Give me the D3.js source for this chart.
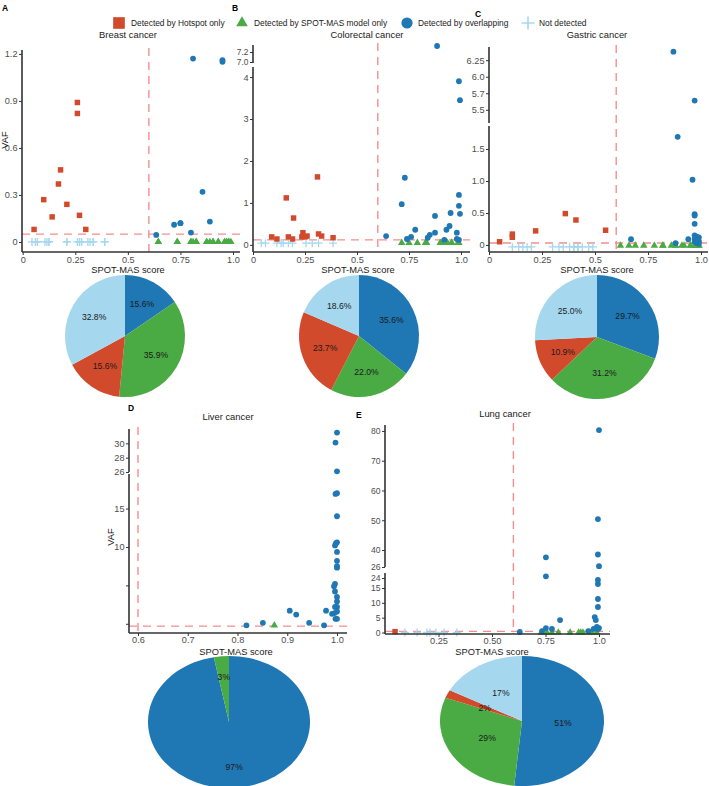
<!DOCTYPE html>
<html><head><meta charset="utf-8">
<script src="https://cdn.jsdelivr.net/npm/d3@7"></script>
<style>body{margin:0;background:#fff} svg{display:block} text{font-family:"Liberation Sans",Arial,sans-serif}</style>
</head><body><svg id="chart" width="709" height="786"></svg>
<script>
// ---------------- DATA ----------------
const legendLabels = ["Detected by Hotspot only","Detected by SPOT-MAS model only","Detected by overlapping","Not detected"];
const pieCategories = ["overlap","spot","hot","none"];

// A Breast
const breastHotScore = [0.054,0.10,0.14,0.17,0.18,0.21,0.26,0.26,0.27,0.30];
const breastHotVAF   = [0.08,0.27,0.16,0.37,0.46,0.24,0.89,0.82,0.17,0.08];
const breastOverScore = [0.635,0.72,0.75,0.80,0.81,0.855,0.89,0.95,0.95,0.75];
const breastOverVAF   = [0.045,0.11,0.12,0.06,1.17,0.32,0.13,1.16,1.15,0.12];
const breastSpotScore = [0.645,0.645,0.735,0.735,0.80,0.80,0.81,0.825,0.825,0.875,0.875,0.89,0.905,0.905,0.93,0.93,0.96,0.96,0.97,0.97,0.98,0.98,0.99];
const breastSpotVAF   = [0,0,0,0,0,0,0,0,0,0,0,0,0,0,0,0,0,0,0,0,0,0,0];
const breastNoneScore = [0.044,0.06,0.07,0.07,0.106,0.115,0.125,0.125,0.21,0.21,0.26,0.27,0.27,0.28,0.28,0.31,0.32,0.335,0.335,0.39,0.39];
const breastNoneVAF   = [0,0,0,0,0,0,0,0,0,0,0,0,0,0,0,0,0,0,0,0,0];
const breastPie = [15.6,35.9,15.6,32.8];

// B Colorectal
const crcHotScore = [0.09,0.115,0.16,0.17,0.19,0.195,0.235,0.24,0.25,0.26,0.31,0.315,0.33,0.385];
const crcHotVAF   = [0.19,0.14,1.12,0.19,0.14,0.64,0.19,0.29,0.19,0.21,1.62,0.26,0.21,0.17];
const crcOverScore = [0.64,0.715,0.73,0.74,0.76,0.78,0.84,0.85,0.875,0.875,0.885,0.92,0.93,0.945,0.95,0.98,0.98,0.99,0.99,0.995,0.99,0.995,0.99];
const crcOverVAF   = [0.21,0.97,1.60,0.14,0.19,0.36,0.17,0.24,0.69,0.29,7.32,0.12,0.36,0.45,0.76,0.29,0.14,0.93,1.19,0.74,3.9,3.45,0.12];
const crcSpotScore = [0.715,0.75,0.79,0.83,0.835,0.9,0.91,0.935,0.955,0.985,0.99,0.83,0.955];
const crcSpotVAF   = [0.05,0.05,0.05,0.05,0.05,0.05,0.05,0.05,0.05,0.05,0.05,0.05,0.05];
const crcNoneScore = [0.04,0.06,0.115,0.135,0.145,0.17,0.19,0.255,0.285,0.315,0.385];
const crcNoneVAF   = [0.04,0.04,0.04,0.04,0.04,0.04,0.04,0.04,0.04,0.04,0.04];
const crcPie = [35.6,22.0,23.7,18.6];

// C Gastric
const gasHotScore = [0.05,0.11,0.11,0.22,0.36,0.41,0.55];
const gasHotVAF   = [0.05,0.17,0.12,0.22,0.49,0.39,0.23];
const gasOverScore = [0.87,0.97,0.89,0.96,0.97,0.97,0.97,0.67,0.88,0.94,0.97,0.98,0.99,0.97,0.98,0.99,0.97,0.98,0.99];
const gasOverVAF   = [6.38,5.64,1.69,1.02,0.48,0.46,0.33,0.09,0.03,0.09,0.15,0.13,0.12,0.10,0.08,0.06,0.05,0.03,0.02];
const gasSpotScore = [0.62,0.66,0.69,0.73,0.78,0.82,0.86,0.88,0.91,0.92,0.95,0.97,0.98,0.99,0.99,0.98,0.97,0.95,0.88,0.82];
const gasSpotVAF   = [-0.01,-0.01,-0.01,-0.01,-0.01,-0.01,-0.01,-0.01,-0.01,-0.01,-0.01,-0.01,-0.01,-0.01,-0.01,-0.01,-0.01,-0.01,-0.01,-0.01];
const gasNoneScore = [0.11,0.14,0.16,0.18,0.2,0.3,0.33,0.35,0.38,0.4,0.42,0.44,0.47,0.49,0.40,0.42];
const gasNoneVAF   = [-0.03,-0.03,-0.03,-0.03,-0.03,-0.03,-0.03,-0.03,-0.03,-0.03,-0.03,-0.03,-0.03,-0.03,-0.03,-0.03];
const gasPie = [29.7,31.2,10.9,25.0];

// D Liver
const livOverScore = [1.0,0.997,1.0,0.997,1.0,1.0,0.998,1.0,0.996,1.0,1.0,1.0,1.0,0.996,0.994,0.996,1.0,1.0,1.0,0.996,1.0,0.995,0.99,0.997,1.0,0.978,0.905,0.918,0.851,0.818,0.944,0.974];
const livOverVAF   = [31.5,30.1,26.1,16.9,17.0,14.0,10.5,10.6,10.2,9.35,8.2,7.5,7.3,5.2,4.9,4.2,3.5,2.9,2.2,2.2,1.6,1.4,1.3,0.65,0.65,1.7,1.7,1.2,0.13,-0.2,0.13,-0.2];
const livSpotScore = [0.874];
const livSpotVAF   = [-0.2];
const liverPie = [97,3,0,0];

// E Lung
const lungOverScore = [1.0,0.995,0.995,1.0,0.995,0.995,0.995,0.995,0.98,0.985,0.975,0.99,0.995,1.0,0.752,0.752,0.818,0.752,0.78,0.734,0.63,0.95];
const lungOverVAF   = [80.3,50.4,36.3,26.7,22.2,18.6,11.3,8.6,5.2,4.2,1.2,1.9,1.2,1.5,34,24.5,4.2,1.5,1.2,0.5,0.2,0.5];
const lungSpotScore = [0.73,0.734,0.757,0.78,0.81,0.865,0.905,0.915,0.925,0.958,0.967,0.99];
const lungSpotVAF   = [0,0,0,0,0,0,0,0,0,0,0,0];
const lungHotScore = [0.047];
const lungHotVAF   = [0.3];
const lungNoneScore = [0.093,0.15,0.196,0.21,0.238,0.276,0.336];
const lungNoneVAF   = [0,0,0,0,0,0,0];
const lungPie = [51,29,2,17];

// ---------------- STYLE ----------------
const COL = {overlap:"#1f77b4", spot:"#4aab45", hot:"#d24a2c", none:"#a5d8ee"};
const DASH = "#f58d8d";
const svg = d3.select("#chart");

function zip(a,b){return a.map((v,i)=>[v,b[i]]);}

function marker(g, type, cx, cy, big){
  if(type==="hot") g.append("path").attr("d", d3.symbol(d3.symbolSquare, big?136:30)()).attr("transform",`translate(${cx},${cy})`).attr("fill",COL.hot);
  else if(type==="spot") g.append("path").attr("d", d3.symbol(d3.symbolTriangle, big?58:24)()).attr("transform",`translate(${cx},${cy})`).attr("fill",COL.spot);
  else if(type==="overlap") g.append("circle").attr("cx",cx).attr("cy",cy).attr("r",big?5.6:2.9).attr("fill",COL.overlap);
  else { const h = big?6.5:4; g.append("path").attr("d",`M${-h},0H${h}M0,${-h}V${h}`).attr("transform",`translate(${cx},${cy})`).attr("stroke",COL.none).attr("stroke-width",big?1.6:1.3).attr("fill","none"); }
}

function drawPanel(p){
  const g = svg.append("g");
  const x = d3.scaleLinear().domain(p.xDomain).range(p.xRange);
  const segs = p.segments.map(s=>Object.assign({}, s, {scale:d3.scaleLinear().domain(s.domain).range(s.range)}));
  const yOf = v => { for(let i=segs.length-1;i>=0;i--){ const s=segs[i]; if(v>=s.domain[0]) return s.scale(v);} return segs[0].scale(v); };
  const top = d3.min(segs, s=>d3.min(s.range)), bottom = p.axisY;
  g.append("line").attr("x1",x(p.cut)).attr("x2",x(p.cut)).attr("y1",top-2).attr("y2",bottom)
    .attr("stroke",DASH).attr("stroke-width",1.4).attr("stroke-dasharray","8,6");
  g.append("line").attr("x1",p.axisX).attr("x2",p.xEnd).attr("y1",yOf(p.vafCut)).attr("y2",yOf(p.vafCut))
    .attr("stroke",DASH).attr("stroke-width",1.4).attr("stroke-dasharray","8,6");
  const order = ["none","spot","hot","overlap"];
  order.forEach(t=>{ (p.series[t]||[]).forEach(([sx,sv])=>marker(g,t,x(sx),yOf(sv),false)); });
  segs.forEach(s=>{
    const ax = g.append("g").attr("transform",`translate(${p.axisX},0)`)
      .call(d3.axisLeft(s.scale).tickValues(s.ticks).tickFormat((d,i)=>s.labels[i]).tickSize(3).tickPadding(1.5).tickSizeOuter(0));
    ax.select(".domain").remove();
    ax.selectAll(".tick line").attr("stroke","#333");
    ax.selectAll(".tick text").attr("fill","#4d4d4d").style("font-size",(s.font||9.2)+"px");
    g.append("line").attr("x1",p.axisX).attr("x2",p.axisX).attr("y1",d3.max(s.range)).attr("y2",d3.min(s.range))
      .attr("stroke","#333").attr("stroke-width",1.6);
  });
  const xa = g.append("g").attr("transform",`translate(0,${p.axisY})`)
    .call(d3.axisBottom(x).tickValues(p.xTicks).tickFormat((d,i)=>p.xLabels[i]).tickSize(3).tickPadding(p.xPad||1.5).tickSizeOuter(0));
  xa.select(".domain").remove();
  xa.selectAll(".tick line").attr("stroke","#333");
  xa.selectAll(".tick text").attr("fill","#4d4d4d").style("font-size","9.2px");
  g.append("line").attr("x1",p.axisX).attr("x2",p.xEnd).attr("y1",p.axisY).attr("y2",p.axisY).attr("stroke","#333").attr("stroke-width",1.6);
  g.append("text").attr("x",p.titleX).attr("y",p.titleY).attr("text-anchor","middle").style("font-size","9.4px").attr("fill","#1a1a1a").text(p.title);
  g.append("text").attr("x",p.xtitleX).attr("y",p.xtitleY).attr("text-anchor","middle").style("font-size","9.3px").attr("fill","#1a1a1a").text("SPOT-MAS score");
  if(p.vafPos) g.append("text").attr("transform",`translate(${p.vafPos[0]},${p.vafPos[1]}) rotate(-90)`).attr("text-anchor","middle").style("font-size","9.3px").attr("fill","#1a1a1a").text("VAF");
  g.append("text").attr("x",p.letter[1]).attr("y",p.letter[2]).style("font-size","8.5px").style("font-weight","bold").text(p.letter[0]);
}

function drawPie(values, cx, cy, rx, ry, fmt, labelR){
  const g = svg.append("g").attr("transform",`translate(${cx},${cy})`);
  const data = values.map((v,i)=>({key:pieCategories[i], v}));
  const arcs = d3.pie().sort(null).value(d=>d.v)(data).filter(a=>a.data.v>0);
  const arc = d3.arc().innerRadius(0).outerRadius(rx);
  const la = d3.arc().innerRadius(rx*labelR).outerRadius(rx*labelR);
  g.append("g").attr("transform",`scale(1,${ry/rx})`).selectAll("path").data(arcs).join("path").attr("d",arc).attr("fill",d=>COL[d.data.key]);
  g.selectAll("text").data(arcs).join("text")
    .attr("transform",d=>{const c=la.centroid(d); return `translate(${c[0]},${c[1]*ry/rx})`;}).attr("text-anchor","middle").attr("dy","0.35em")
    .style("font-size","8.6px").attr("fill","#1a1a1a").text(d=>fmt(d.data.v));
}

// ---------------- LEGEND ----------------
const legendTypes = ["hot","spot","overlap","none"];
const legendTextX = {hot:131, spot:254, overlap:418, none:539};
const legendSymX = {hot:119, spot:242, overlap:407, none:528};
legendTypes.forEach((t,i)=>{
  marker(svg, t, legendSymX[t], 23, true);
  svg.append("text").attr("x",legendTextX[t]).attr("y",26).style("font-size","8.4px").attr("fill","#1a1a1a").text(legendLabels[i]);
});

// ---------------- PANELS ----------------
drawPanel({
  title:"Breast cancer", titleX:128, titleY:38, letter:["A",2,11],
  xDomain:[0,1], xRange:[22.7,233], axisX:22, xEnd:240, axisY:252,
  xTicks:[0,0.25,0.5,0.75,1], xLabels:["0","0.25","0.5","0.75","1.0"],
  segments:[{domain:[-0.064,1.225], range:[252,50], ticks:[0,0.3,0.6,0.9,1.2], labels:["0","0.3","0.6","0.9","1.2"]}],
  cut:0.6, vafCut:0.05, xtitleX:128, xtitleY:272.5, vafPos:[8,140],
  series:{hot:zip(breastHotScore,breastHotVAF), overlap:zip(breastOverScore,breastOverVAF), spot:zip(breastSpotScore,breastSpotVAF), none:zip(breastNoneScore,breastNoneVAF)}
});
drawPanel({
  title:"Colorectal cancer", titleX:367, titleY:38, letter:["B",232,11],
  xDomain:[0,1], xRange:[253,461], axisX:253, xEnd:470, axisY:252,
  xTicks:[0,0.25,0.5,0.75,1], xLabels:["0","0.25","0.5","0.75","1.0"],
  segments:[{domain:[-0.17,4.24], range:[252,67], ticks:[0,1,2,3,4], labels:["0","1","2","3","4"]},
            {domain:[6.98,7.34], range:[63,45], ticks:[7.0,7.2], labels:["7.0","7.2"], font:8.4}],
  cut:0.6, vafCut:0.12, xtitleX:358, xtitleY:272.5,
  series:{hot:zip(crcHotScore,crcHotVAF), overlap:zip(crcOverScore,crcOverVAF), spot:zip(crcSpotScore,crcSpotVAF), none:zip(crcNoneScore,crcNoneVAF)}
});
drawPanel({
  title:"Gastric cancer", titleX:597, titleY:38, letter:["C",475,17],
  xDomain:[0,1], xRange:[489,701], axisX:489, xEnd:708, axisY:252,
  xTicks:[0,0.25,0.5,0.75,1], xLabels:["0","0.25","0.5","0.75","1.0"],
  segments:[{domain:[-0.11,1.86], range:[252,126], ticks:[0,0.5,1.0,1.5], labels:["0","0.5","1.0","1.5"]},
            {domain:[5.3,6.45], range:[123,47], ticks:[5.5,5.75,6.0,6.25], labels:["5.5","5.7","6.0","6.25"]}],
  cut:0.6, vafCut:0.03, xtitleX:597, xtitleY:272.5,
  series:{hot:zip(gasHotScore,gasHotVAF), overlap:zip(gasOverScore,gasOverVAF), spot:zip(gasSpotScore,gasSpotVAF), none:zip(gasNoneScore,gasNoneVAF)}
});
drawPanel({
  title:"Liver cancer", titleX:228, titleY:420, letter:["D",128,411],
  xDomain:[0.6,1.0], xRange:[138,337], axisX:129, xEnd:347, axisY:633, xPad:0.5,
  xTicks:[0.6,0.7,0.8,0.9,1.0], xLabels:["0.6","0.7","0.8","0.9","1.0"],
  segments:[{domain:[-1.2,19.5], range:[633,474], ticks:[0,5,10,15], labels:["","","10","15"]},
            {domain:[26,32], range:[472,429], ticks:[26,28,30], labels:["26","28","30"]}],
  cut:0.6, vafCut:-0.3, xtitleX:236, xtitleY:654.5, vafPos:[114,537],
  series:{overlap:zip(livOverScore,livOverVAF), spot:zip(livSpotScore,livSpotVAF)}
});
drawPanel({
  title:"Lung cancer", titleX:505, titleY:417, letter:["E",356,418],
  xDomain:[0,1], xRange:[385,599], axisX:385, xEnd:610, axisY:634, xPad:0.5,
  xTicks:[0.25,0.5,0.75,1], xLabels:["0.25","0.50","0.75","1.0"],
  segments:[{domain:[-0.5,15,24,25.5], range:[634,588,578,573], ticks:[0,5,10,15,24], labels:["0","5","10","15","24"], font:8.6},
            {domain:[26,40,82], range:[567,550,425], ticks:[26,40,50,60,70,80], labels:["26","40","50","60","70","80"], font:8.6}],
  cut:0.6, vafCut:0.4, xtitleX:492, xtitleY:655,
  series:{hot:zip(lungHotScore,lungHotVAF), overlap:zip(lungOverScore,lungOverVAF), spot:zip(lungSpotScore,lungSpotVAF), none:zip(lungNoneScore,lungNoneVAF)}
});

// ---------------- PIES ----------------
const f1 = v=>v.toFixed(1)+"%";
const f0 = v=>v+"%";
drawPie(breastPie, 125, 336, 60, 61, f1, 0.6);
drawPie(crcPie, 359, 336, 60, 61, f1, 0.6);
drawPie(gasPie, 597, 337, 62, 62, f1, 0.6);
drawPie(liverPie, 229, 722, 81, 66, f0, 0.68);
drawPie(lungPie, 522, 721, 82, 65, f0, 0.5);
</script></body></html>
